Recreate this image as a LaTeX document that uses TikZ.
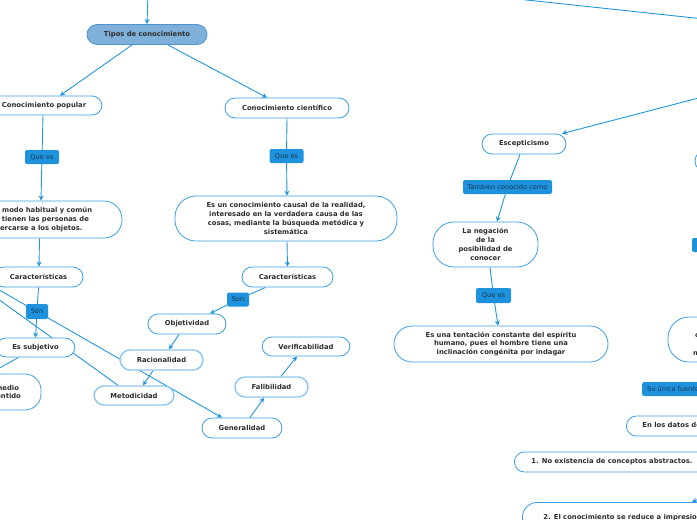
\documentclass[tikz,border=0pt]{standalone}
\usepackage{fontspec}
\setmainfont{DejaVu Sans}
\usetikzlibrary{arrows.meta, backgrounds, positioning}

\definecolor{lineblue}{HTML}{2196DE}
\definecolor{bordeblue}{HTML}{3A9FE4}
\definecolor{suaveblue}{HTML}{8CC6EE}
\definecolor{raizfill}{HTML}{7EB0DA}
\definecolor{raizline}{HTML}{4E95D0}
\definecolor{enlacefill}{HTML}{1E92DC}
\definecolor{enlacetext}{HTML}{1B3550}
\definecolor{textogris}{HTML}{2E2E2E}

\newcommand{\fuentenodo}{\fontsize{6.8}{8.8}\selectfont\bfseries}
\newcommand{\fuenteenlace}{\fontsize{6.6}{8}\selectfont}

\begin{document}
\begin{tikzpicture}[x=1pt, y=-1pt]
    % --- Style Definitions ---
    \tikzset{
        tema style/.style={
            draw=bordeblue,
            line width=0.8pt,
            fill=white,
            rounded corners=10pt,
            inner sep=0pt,
            align=center,
            text=textogris,
            font=\fuentenodo
        },
        tema suave/.style={
            tema style,
            draw=suaveblue,
            line width=1.4pt
        },
        raiz style/.style={
            tema style,
            fill=raizfill,
            draw=raizline
        },
        enlace style/.style={
            fill=enlacefill,
            rounded corners=2pt,
            inner sep=0pt,
            text=enlacetext,
            font=\fuenteenlace
        },
        flecha style/.style={
            draw=lineblue,
            line width=0.9pt,
            -{Stealth[length=5pt, width=5pt]}
        },
        linea style/.style={
            draw=lineblue,
            line width=0.9pt
        }
    }

    \useasboundingbox (0,0) rectangle (697,520);
    \clip (0,0) rectangle (697,520);

    % --- 1. Tipos de conocimiento ---
    \node[raiz style, minimum width=120pt, minimum height=20pt] (tipos) at (147,34.5) {Tipos de conocimiento};
    \coordinate (arriba) at (148,-6);

    % --- 2. Conocimiento popular ---
    \node[tema style, minimum width=116pt, minimum height=19pt] (popular) at (44,105.5) {Conocimiento popular};
    \node[enlace style, minimum width=34pt, minimum height=14pt] (queesA) at (42,157) {Que es};
    \node[tema style, rounded corners=18pt, minimum width=170pt, minimum height=37pt] (modo) at (37,219.5)
        {Es el modo habitual y común\\que tienen las personas de\\acercarse a los objetos.};
    \node[tema style, minimum width=89pt, minimum height=20pt] (caracA) at (38.5,277) {Características};
    \node[enlace style, minimum width=22pt, minimum height=15pt] (sonA) at (37,311.5) {Son};
    \node[tema style, minimum width=79pt, minimum height=19pt] (subjetivo) at (35.5,347.5) {Es subjetivo};
    \node[tema style, rounded corners=16pt, minimum width=83pt, minimum height=36pt] (medio) at (-0.5,392) {Por medio\\del sentido};
    \coordinate (fueraA) at (-20,279);
    \coordinate (fueraB) at (-20,286);

    % --- 3. Conocimiento cientifico ---
    \node[tema style, minimum width=124pt, minimum height=20pt] (cientifico) at (287,108) {Conocimiento científico};
    \node[enlace style, minimum width=34pt, minimum height=14pt] (queesB) at (286.5,156) {Que es};
    \node[tema style, rounded corners=21pt, minimum width=222pt, minimum height=45pt] (causal) at (286,218.5)
        {Es un conocimiento causal de la realidad,\\interesado en la verdadera causa de las\\cosas, mediante la búsqueda metódica y\\sistemática};
    \node[tema style, minimum width=91pt, minimum height=20pt] (caracB) at (287.5,277) {Características};
    \node[enlace style, minimum width=22pt, minimum height=14pt] (sonB) at (238,299.5) {Son};
    \node[tema style, minimum width=78pt, minimum height=20pt] (objetividad) at (187,324) {Objetividad};
    \node[tema suave, minimum width=83pt, minimum height=20pt] (racionalidad) at (161.5,360) {Racionalidad};
    \node[tema suave, minimum width=80pt, minimum height=19pt] (metodicidad) at (134,395.5) {Metodicidad};
    \node[tema style, minimum width=80pt, minimum height=20pt] (generalidad) at (242,428) {Generalidad};
    \node[tema suave, minimum width=73pt, minimum height=20pt] (falibilidad) at (271.5,387) {Falibilidad};
    \node[tema style, minimum width=88pt, minimum height=19pt] (verificabilidad) at (306,346.5) {Verificabilidad};

    % --- 4. Escepticismo ---
    \node[tema style, minimum width=84pt, minimum height=20pt] (escepticismo) at (524,144) {Escepticismo};
    \node[enlace style, minimum width=89pt, minimum height=14pt] (tambien) at (507.5,187) {Tambien conocido como};
    \node[tema style, rounded corners=21pt, minimum width=105pt, minimum height=45pt] (negacion) at (485.5,244.5)
        {La negación\\de la\\posibilidad de\\conocer};
    \node[enlace style, minimum width=35pt, minimum height=15pt] (queesC) at (493.5,295.5) {Que es};
    \node[tema style, rounded corners=18pt, minimum width=214pt, minimum height=36pt] (tentacion) at (501,344)
        {Es una tentación constante del espíritu\\humano, pues el hombre tiene una\\inclinación congénita por indagar};
    \coordinate (fueraC) at (480,-5);
    \coordinate (fueraD) at (760,25);
    \coordinate (fueraE) at (760,82);

    % --- 5. Right edge (cut off) ---
    \node[tema style, rounded corners=11pt, minimum width=100pt, minimum height=22pt] (derecha) at (745,161) {};
    \node[enlace style, minimum width=56pt, minimum height=14pt] (enlaceR) at (720,245) {};
    \node[tema style, rounded corners=21pt, minimum width=108pt, minimum height=45pt] (experiencia) at (722,339.5)
        {Todo lo que\\conocemos es\\dado por\\medio sensible};
    \node[enlace style, anchor=west, inner xsep=5pt, minimum height=14pt] (fuente) at (642,389) {Su única fuente es};
    \node[tema style, anchor=west, inner xsep=16pt, minimum height=20pt] (datos) at (626,426) {En los datos de la experiencia};
    \node[tema style, anchor=west, inner xsep=17pt, minimum height=20pt] (abstractos) at (514,462) {1. No existencia de conceptos abstractos.};
    \node[tema style, anchor=north west, align=left, rounded corners=15pt, inner xsep=21pt, inner ysep=6pt, minimum height=40pt] (impresiones) at (522,502)
        {2. El conocimiento se reduce a impresiones\\sensibles (imágenes, no ideas)};
    \coordinate (fueraF) at (745,478);

    % --- 6. Connectors ---
    \begin{scope}[on background layer]
        \clip (0,0) rectangle (697,520);
        \draw[flecha style] (arriba) -- (tipos.north);
        \draw[flecha style] ([xshift=-15pt]tipos.south) -- ([xshift=16pt]popular.north);
        \draw[flecha style] ([xshift=21pt]tipos.south) -- ([xshift=-20pt]cientifico.north);

        \draw[linea style] ([xshift=-1pt]popular.south) -- (queesA);
        \draw[flecha style] (queesA) -- ([xshift=4pt]modo.north);
        \draw[flecha style] ([xshift=2.5pt]modo.south) -- ([xshift=0.5pt]caracA.north);
        \draw[linea style] (caracA.south) -- (sonA);
        \draw[flecha style] (sonA) -- (subjetivo.north);
        \draw[flecha style] ([xshift=-17pt]subjetivo.south) -- ([xshift=-10pt]medio.north);
        \draw[flecha style] (fueraA) -- ([xshift=-20pt]generalidad.north);
        \draw[linea style] ([xshift=-16pt]metodicidad.north) -- (fueraB);

        \draw[linea style] (cientifico.south) -- (queesB);
        \draw[flecha style] (queesB) -- ([xshift=1pt]causal.north);
        \draw[flecha style] ([xshift=1pt]causal.south) -- (caracB.north);
        \draw[linea style] ([xshift=-22pt]caracB.south) -- (sonB);
        \draw[flecha style] (sonB) -- ([xshift=23pt]objetividad.north);
        \draw[flecha style] ([xshift=-8pt]objetividad.south) -- ([xshift=7.5pt]racionalidad.north);
        \draw[flecha style] ([xshift=-8.5pt]racionalidad.south) -- ([xshift=9pt]metodicidad.north);
        \draw[flecha style] ([xshift=8pt]generalidad.north) -- ([xshift=-7.5pt]falibilidad.south);
        \draw[flecha style] ([xshift=9.5pt]falibilidad.north) -- ([xshift=-9pt]verificabilidad.south);

        \draw[linea style] (fueraC) -- (fueraD);
        \draw[flecha style] (fueraE) -- ([xshift=38pt]escepticismo.north);
        \draw[linea style] ([xshift=-4pt]escepticismo.south) -- (tambien);
        \draw[flecha style] (tambien) -- ([xshift=11.5pt]negacion.north);
        \draw[linea style] ([xshift=4.5pt]negacion.south) -- (queesC);
        \draw[flecha style] (queesC) -- ([xshift=-3pt]tentacion.north);
        \draw[flecha style] (fueraF) -- ([xshift=170pt]impresiones.north west);
    \end{scope}
\end{tikzpicture}
\end{document}
